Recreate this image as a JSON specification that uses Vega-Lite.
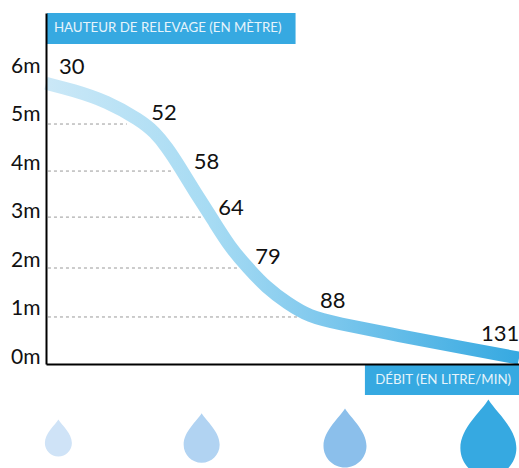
{
"$schema":"https://vega.github.io/schema/vega-lite/v6.json",
"width":473,"height":351,"autosize":{"type":"none"},"padding":{"left":46,"top":13,"right":0,"bottom":104},
"background":"white",
"config":{"view":{"stroke":null},"font":"Lato"},
"datasets":{
"curve":[{"flow":30,"head":5.79},{"flow":35.4,"head":5.65},{"flow":42.3,"head":5.42},{"flow":49,"head":5.03},{"flow":52,"head":4.78},{"flow":54.4,"head":4.47},{"flow":57,"head":4.06},{"flow":60.2,"head":3.55},{"flow":64.5,"head":2.97},{"flow":72.2,"head":2.41},{"flow":79.3,"head":2.0},{"flow":82,"head":1.57},{"flow":84.8,"head":1.26},{"flow":88,"head":0.97},{"flow":93.1,"head":0.85},{"flow":106.5,"head":0.58},{"flow":118.9,"head":0.35},{"flow":131,"head":0.12}],
"labels":[{"label":"30","lx":35.2,"ly":6.12},{"label":"52","lx":53.8,"ly":5.17},{"label":"58","lx":62.8,"ly":4.16},{"label":"64","lx":72.6,"ly":3.21},{"label":"79","lx":82.2,"ly":2.2},{"label":"88","lx":92.7,"ly":1.29},{"label":"131","lx":127.1,"ly":0.61}],
"guides":[{"start":30.4,"end":46.3,"head":4.95},{"start":30.4,"end":55.6,"head":3.98},{"start":30.4,"end":62.2,"head":3.03},{"start":30.4,"end":75.8,"head":1.98},{"start":30.4,"end":86.6,"head":0.97}],
"boxes":[{"x1":30.2,"x2":86,"y1":6.6,"y2":7.24},{"x1":99.3,"x2":131,"y1":-0.02,"y2":-0.64}],
"titles":[{"text":"HAUTEUR DE RELEVAGE (EN MÈTRE)","tx":31.6,"ty":6.93},{"text":"DÉBIT (EN LITRE/MIN)","tx":101.4,"ty":-0.33}],
"drops":[{"flow":32.5,"head":-1.526,"area":729,"color":"#cfe3f7"},{"flow":61.7,"head":-1.526,"area":1296,"color":"#b1d3f2"},{"flow":95.2,"head":-1.526,"area":1849,"color":"#8bbfeb"},{"flow":124.7,"head":-1.526,"area":3136,"color":"#36a9e1"}]
},
"layer":[
{"data":{"name":"guides"},"mark":{"type":"rule","stroke":"#999999","strokeWidth":1,"strokeDash":[3,3]},
 "encoding":{"x":{"field":"start","type":"quantitative","scale":{"domain":[30,52,58,64,79,88,131],"range":[0,109,139,166,199,264,473],"nice":false,"zero":false},"axis":{"title":null,"labels":false,"ticks":false,"grid":false,"domainColor":"#000000","domainWidth":2,"zindex":1}},
 "x2":{"field":"end"},
 "y":{"field":"head","type":"quantitative","scale":{"domain":[0,7.24],"nice":false},"axis":{"title":null,"values":[0,1,2,3,4,5,6],"labelExpr":"datum.value+'m'","ticks":false,"grid":false,"domainColor":"#000000","domainWidth":2,"labelFontSize":21,"labelColor":"#111111","labelPadding":6,"labelOffset":-7,"zindex":1}}}},
{"data":{"name":"curve"},"mark":{"type":"line","interpolate":"basis","strokeWidth":13,"strokeCap":"butt","strokeJoin":"round","stroke":{"gradient":"linear","x1":0,"x2":1,"y1":0,"y2":0,"stops":[{"offset":0,"color":"#cbe8f7"},{"offset":0.35,"color":"#a6dbf3"},{"offset":0.55,"color":"#85cbee"},{"offset":1,"color":"#36a9e1"}]}},
 "encoding":{"x":{"field":"flow","type":"quantitative"},"y":{"field":"head","type":"quantitative"}}},
{"data":{"name":"boxes"},"mark":{"type":"rect","fill":"#36a9e1","clip":false},
 "encoding":{"x":{"field":"x1","type":"quantitative"},"x2":{"field":"x2"},"y":{"field":"y1","type":"quantitative"},"y2":{"field":"y2"}}},
{"data":{"name":"titles"},"mark":{"type":"text","align":"left","baseline":"middle","color":"#e6f4fb","fontSize":13.3},
 "encoding":{"x":{"field":"tx","type":"quantitative"},"y":{"field":"ty","type":"quantitative"},"text":{"field":"text"}}},
{"data":{"name":"labels"},"mark":{"type":"text","align":"center","baseline":"middle","color":"#111111","fontSize":22},
 "encoding":{"x":{"field":"lx","type":"quantitative"},"y":{"field":"ly","type":"quantitative"},"text":{"field":"label"}}},
{"data":{"name":"drops"},"mark":{"type":"point","filled":true,"opacity":1,"strokeWidth":0,"shape":"M0,-1.37 C-0.25,-0.95 -1,-0.35 -1,0.37 A1,1 0 1 0 1,0.37 C1,-0.35 0.25,-0.95 0,-1.37Z"},
 "encoding":{"x":{"field":"flow","type":"quantitative"},"y":{"field":"head","type":"quantitative"},"size":{"field":"area","type":"quantitative","scale":null},"color":{"field":"color","type":"nominal","scale":null}}}
]
}
